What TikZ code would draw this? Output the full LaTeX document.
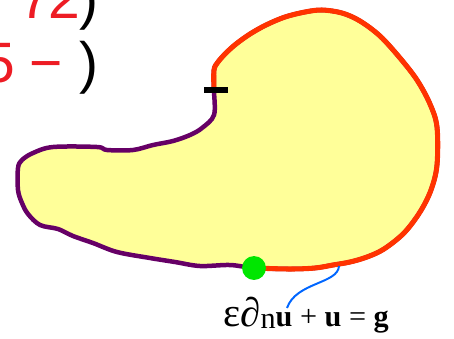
\documentclass[tikz,border=0pt]{standalone}
\usepackage{fontspec}
\setmainfont{Liberation Serif}
\newfontfamily\digitfont{Liberation Sans}
\usetikzlibrary{positioning}
\definecolor{rimpurple}{HTML}{660066}
\definecolor{rimred}{HTML}{FF3300}
\definecolor{domyellow}{HTML}{FFFF99}
\definecolor{dotgreen}{HTML}{00E600}
\definecolor{leadblue}{HTML}{0066FF}
\definecolor{digitred}{HTML}{ED1C24}
\tikzset{
  rim/.style={draw=rimpurple, line width=3.2pt, fill=domyellow, line join=round},
  dirichlet/.style={draw=rimred, line width=3.6pt, line join=round, line cap=round},
  splitmark/.style={draw=black, line width=3.6pt},
  corner/.style={circle, fill=dotgreen, inner sep=0pt, minimum size=17pt},
  lead/.style={draw=leadblue, line width=1.4pt},
  glyph/.style={inner sep=0pt, anchor=base, font=\digitfont\fontsize{40.5}{48}\selectfont},
}

\begin{document}
\begin{tikzpicture}[x=0.025cm, y=-0.025cm]
  \useasboundingbox (0,0) rectangle (454,338);
  \clip (0,0) rectangle (454,338);
  % cut-off formula lines at the top left
  \node[glyph, digitred] (seven) at (35,18) {7};
  \node[glyph, digitred] (two) at (64,18) {2};
  \node[glyph] (close1) at (89,18) {)};
  \node[glyph, digitred] (five) at (-1,82) {5};
  \node[glyph, digitred] (minus) at (46,82) {−};
  \node[glyph] (close2) at (89,82) {)};
  % domain
  \filldraw[rim] plot[smooth cycle, tension=0.55] coordinates {
    (214,90) (214,70) (218,62) (226,53) (236,44) (250,34) (266,25) (285,17)
    (305,12) (322,10) (342,13) (360,21) (380,36) (400,58) (417,80) (430,104)
    (437,127) (437,165) (431,190) (420,212) (404,233) (384,249) (367,257)
    (350,262) (333,265) (315,268) (290,269) (254,268) (230,265) (200,266)
    (175,262) (150,258) (117,252) (93,243) (73,236) (58,229) (40,225)
    (28,214) (22,203) (18,190) (18,168) (22,160) (33,153) (53,147) (97,147)
    (107,150) (133,150) (153,145) (173,141) (190,135) (202,128) (214,115)};
  % boundary part carrying the condition
  \draw[dirichlet] plot[smooth, tension=0.55] coordinates {
    (214,90) (214,70) (218,62) (226,53) (236,44) (250,34) (266,25) (285,17)
    (305,12) (322,10) (342,13) (360,21) (380,36) (400,58) (417,80) (430,104)
    (437,127) (437,165) (431,190) (420,212) (404,233) (384,249) (367,257)
    (350,262) (333,265) (315,268) (290,269) (254,268)};
  \draw[splitmark] (204,90) -- (228,90);
  \node[corner] (junction) at (254,268) {};
  % condition label
  \node[inner sep=0pt, anchor=base west] (robin) at (223,326)
    {{\fontsize{29}{31}\selectfont ε∂}{\fontsize{21.5}{25}\selectfont\raisebox{-2pt}{n}\textbf{u} + \textbf{u} = \textbf{g}}};
  \coordinate (foot) at (339,266);
  \coordinate (tip) at (287,308);
  \draw[lead] (foot) .. controls (338,284) and (296,282) .. (tip);
\end{tikzpicture}
\end{document}
